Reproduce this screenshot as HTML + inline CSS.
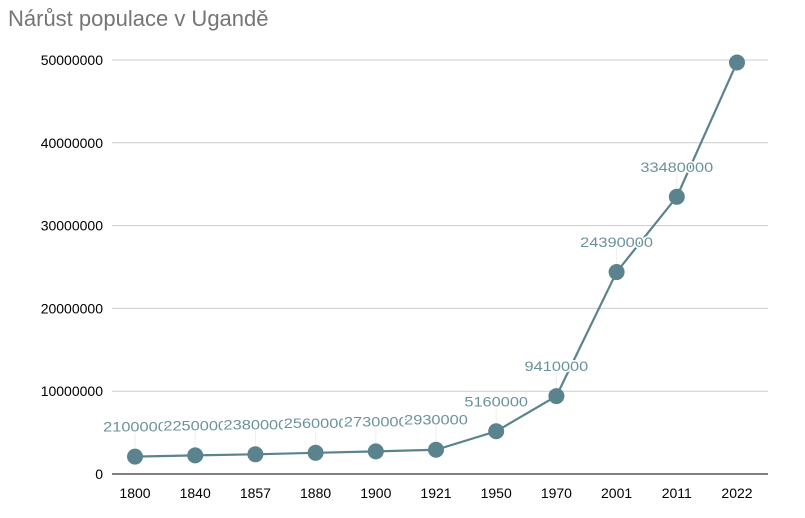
<!DOCTYPE html>
<html><head><meta charset="utf-8"><style>
body{margin:0;background:#fff;font-family:"Liberation Sans",sans-serif}
</style></head><body>
<svg id="c" width="805" height="513" xmlns="http://www.w3.org/2000/svg">
<text x="8" y="26" font-size="22" fill="#757575" font-family="Liberation Sans, sans-serif">Nárůst populace v Ugandě</text>
<g id="grid"></g><g id="series"></g><g id="labels"></g>
</svg>
<script>
const categories=["1800","1840","1857","1880","1900","1921","1950","1970","2001","2011","2022"];
const values=[2100000,2250000,2380000,2560000,2730000,2930000,5160000,9410000,24390000,33480000,49700000];
const yTicks=[0,10000000,20000000,30000000,40000000,50000000];
const NS="http://www.w3.org/2000/svg";
const x0=135,dx=60.2,yZero=474,yTop=60,yMax=50000000;
const xs=i=>x0+i*dx;
const ys=v=>yZero-(v/yMax)*(yZero-yTop);
function mk(tag,attrs,parent){const e=document.createElementNS(NS,tag);for(const k in attrs)e.setAttribute(k,attrs[k]);parent.appendChild(e);return e;}
const grid=document.getElementById('grid'),ser=document.getElementById('series'),lab=document.getElementById('labels');
yTicks.forEach(t=>{
  const y=ys(t);
  const l=mk('line',{x1:112,x2:768,y1:y,y2:y,stroke:t===0?'#333':'#ccc','stroke-width':t===0?1.3:1},grid);
  
  
  const tx=mk('text',{x:103,y:y+5,'font-size':14,'text-anchor':'end',fill:'#000'},grid);
  tx.textContent=String(t);
  
  
});
categories.forEach((c,i)=>{
  const tx=mk('text',{x:xs(i),y:498,'font-size':14,'text-anchor':'middle',fill:'#000'},grid);
  tx.textContent=c;
  
  
});
const pl=mk('polyline',{points:values.map((v,i)=>xs(i)+','+ys(v)).join(' '),fill:'none',stroke:'#5a838e','stroke-width':2.2},ser);


values.forEach((v,i)=>{
  const y=ys(v);
  if(i<values.length-1){
    const ll=mk('line',{x1:xs(i),x2:xs(i),y1:y-26,y2:y-8,stroke:'#eee','stroke-width':1},ser);
    
    
  }
  const p=mk('circle',{cx:xs(i),cy:y,r:8,fill:'#5a838e'},ser);
  
  
  if(i<values.length-1){
    const s=String(v);
    const t=mk('text',{x:xs(i),y:y-25,'font-size':14,'text-anchor':'middle',fill:'#6a929c',stroke:'#fff','stroke-width':3,'paint-order':'stroke',textLength:9.1*s.length,lengthAdjust:'spacingAndGlyphs'},lab);
    t.textContent=s;
    
    
  }
});
</script>
</body></html>
